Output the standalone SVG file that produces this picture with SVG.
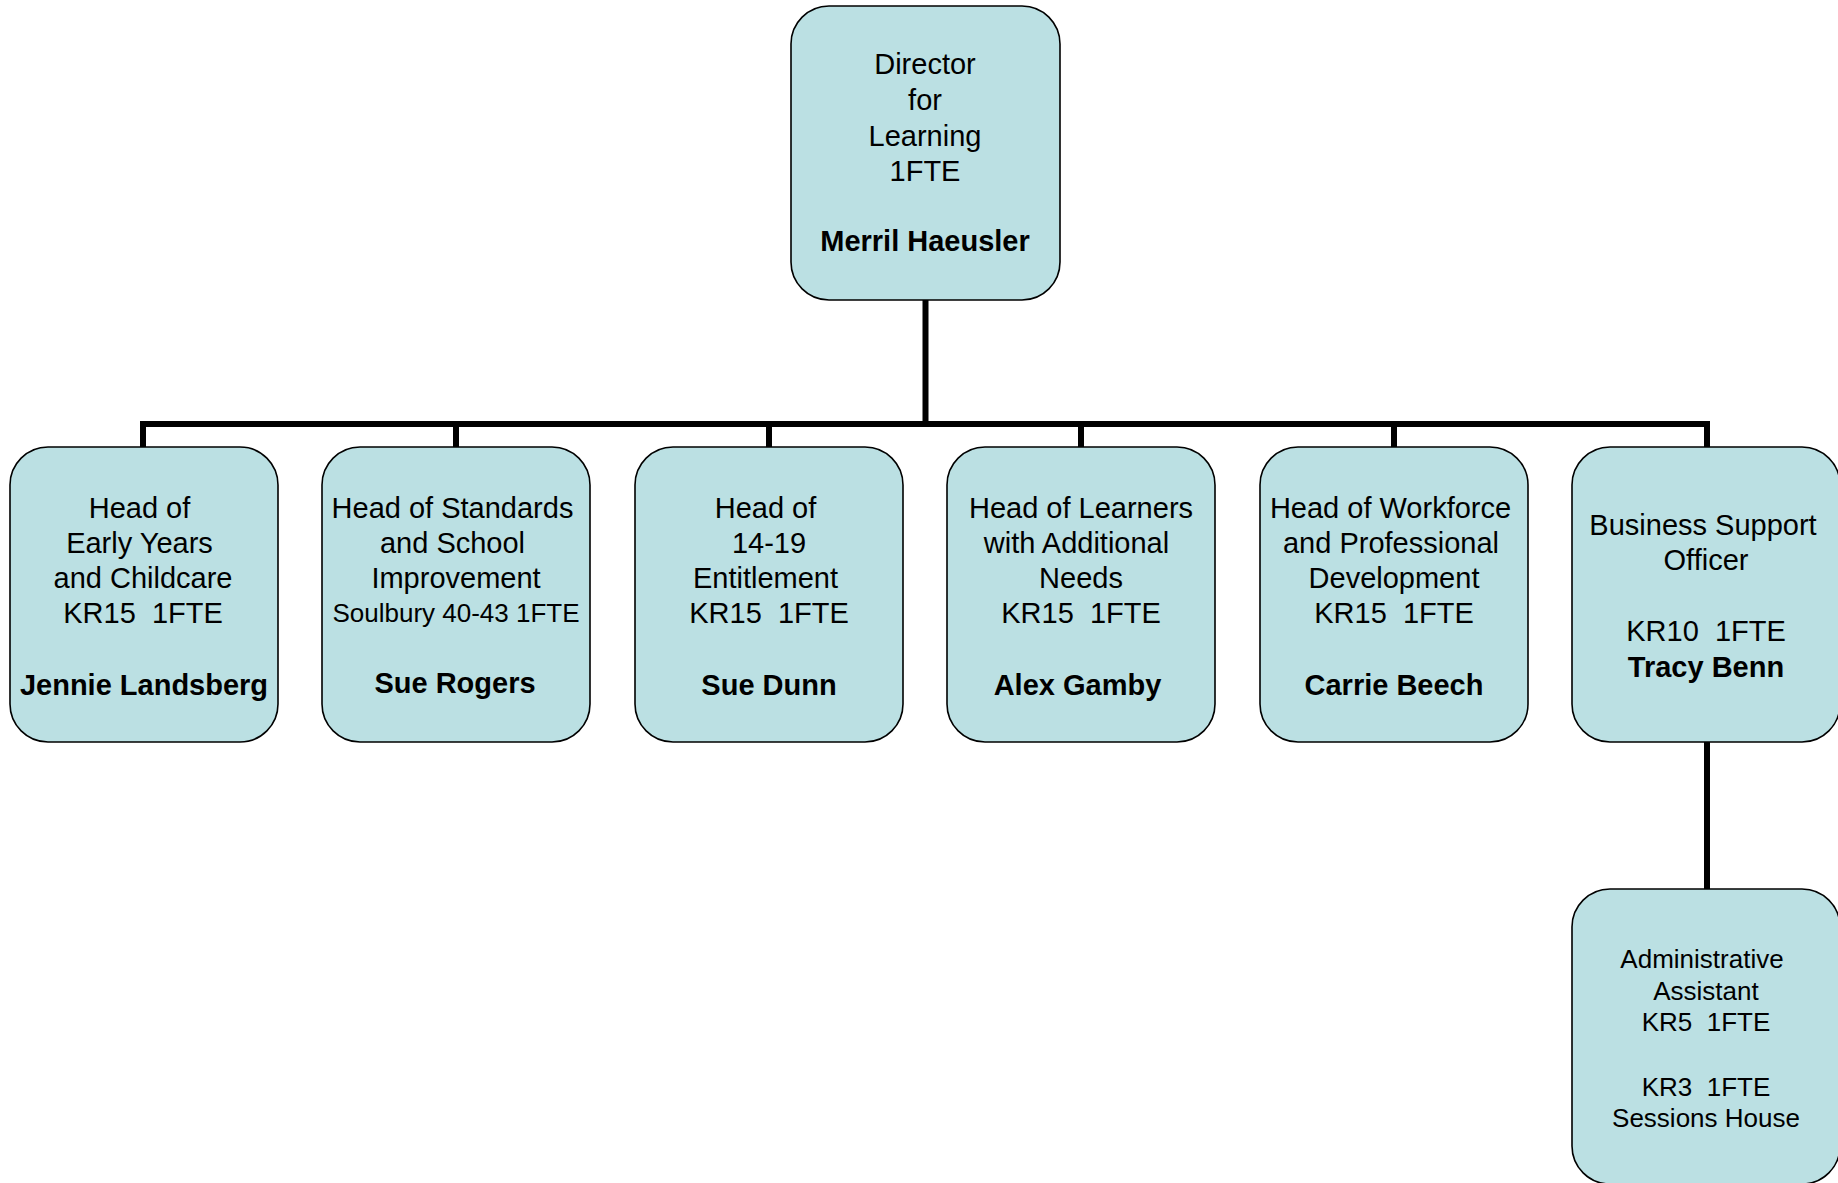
<svg xmlns="http://www.w3.org/2000/svg" width="1838" height="1183" viewBox="0 0 1838 1183">
<style>
.box{fill:#BBE0E3;stroke:#000;stroke-width:1.6}
.t{font-family:"Liberation Sans",Arial,sans-serif;font-size:29px;fill:#000;text-anchor:middle;white-space:pre}
.s{font-size:26px}
.b{font-weight:bold}
.c{stroke:#000;stroke-width:6;fill:none}
</style>
<rect width="1838" height="1183" fill="#fff"/>
<g id="connectors">
<path class="c" d="M925.5 300V424M143 424H1707M143 421V447M456 421V447M769 421V447M1081 421V447M1394 421V447M1707 421V447M1707 742V889"/>
</g>
<g id="director">
<rect class="box" x="791" y="6" width="269" height="294" rx="38"/>
<text class="t" x="925" y="74">Director</text>
<text class="t" x="925" y="110">for</text>
<text class="t" x="925" y="145.5">Learning</text>
<text class="t" x="925" y="181">1FTE</text>
<text class="t b" x="925" y="251">Merril Haeusler</text>
</g>
<g id="early-years">
<rect class="box" x="10" y="447" width="268" height="295" rx="38"/>
<text class="t" x="139.5" y="518">Head of</text>
<text class="t" x="139.5" y="553">Early Years</text>
<text class="t" x="143" y="588">and Childcare</text>
<text class="t" x="143" y="623">KR15  1FTE</text>
<text class="t b" x="144" y="695">Jennie Landsberg</text>
</g>
<g id="standards">
<rect class="box" x="322" y="447" width="268" height="295" rx="38"/>
<text class="t" x="452.5" y="518">Head of Standards</text>
<text class="t" x="452.5" y="553">and School</text>
<text class="t" x="456" y="588">Improvement</text>
<text class="t s" x="456" y="622">Soulbury 40-43 1FTE</text>
<text class="t b" x="455" y="693">Sue Rogers</text>
</g>
<g id="entitlement">
<rect class="box" x="635" y="447" width="268" height="295" rx="38"/>
<text class="t" x="765.5" y="518">Head of</text>
<text class="t" x="769" y="553">14-19</text>
<text class="t" x="765.5" y="588">Entitlement</text>
<text class="t" x="769" y="623">KR15  1FTE</text>
<text class="t b" x="769" y="695">Sue Dunn</text>
</g>
<g id="learners">
<rect class="box" x="947" y="447" width="268" height="295" rx="38"/>
<text class="t" x="1081" y="518">Head of Learners</text>
<text class="t" x="1076.5" y="553">with Additional</text>
<text class="t" x="1081" y="588">Needs</text>
<text class="t" x="1081" y="623">KR15  1FTE</text>
<text class="t b" x="1077.5" y="695">Alex Gamby</text>
</g>
<g id="workforce">
<rect class="box" x="1260" y="447" width="268" height="295" rx="38"/>
<text class="t" x="1390.5" y="518">Head of Workforce</text>
<text class="t" x="1391" y="553">and Professional</text>
<text class="t" x="1394" y="588">Development</text>
<text class="t" x="1394" y="623">KR15  1FTE</text>
<text class="t b" x="1394" y="695">Carrie Beech</text>
</g>
<g id="business-support">
<rect class="box" x="1572" y="447" width="268" height="295" rx="38"/>
<text class="t" x="1703" y="535">Business Support</text>
<text class="t" x="1706" y="570">Officer</text>
<text class="t" x="1706" y="641">KR10  1FTE</text>
<text class="t b" x="1706" y="677">Tracy Benn</text>
</g>
<g id="admin-assistant">
<rect class="box" x="1572" y="889" width="268" height="295" rx="38"/>
<text class="t s" x="1702" y="968">Administrative</text>
<text class="t s" x="1706" y="999.5">Assistant</text>
<text class="t s" x="1706" y="1031">KR5  1FTE</text>
<text class="t s" x="1706" y="1095.5">KR3  1FTE</text>
<text class="t s" x="1706" y="1127">Sessions House</text>
</g>
</svg>
